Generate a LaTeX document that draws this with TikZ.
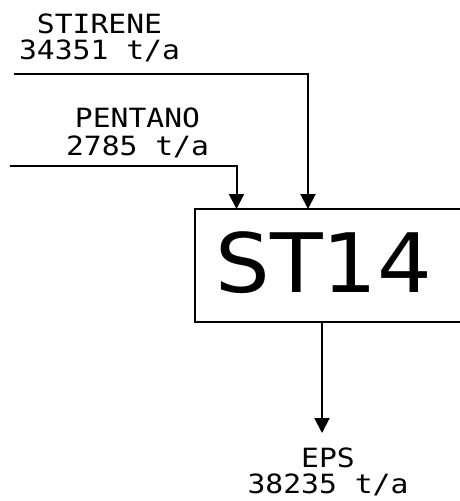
\documentclass[tikz,border=0pt]{standalone}
\usepackage{fontspec}
\usetikzlibrary{arrows.meta}
\newfontfamily\labmono[FakeStretch=1.12]{DejaVu Sans Mono}
\newfontfamily\bigsans[FakeStretch=1.05]{DejaVu Sans}
\tikzset{
  flow/.style={line width=2pt, -{Triangle[length=15pt,width=15pt]}},
  lab/.style={inner sep=0pt, anchor=base, align=center, font=\labmono\fontsize{26.5}{26}\selectfont},
  unitbox/.style={draw, line width=2pt, inner sep=0pt, outer sep=0pt, minimum width=280pt, minimum height=112.5pt},
  bigtext/.style={inner sep=0pt, anchor=base, font=\bigsans\fontsize{82}{90}\selectfont}
}
\begin{document}
\begin{tikzpicture}[x=1pt,y=-1pt]
\useasboundingbox (0,0) rectangle (460,501);
% box
\node[unitbox] (box) at (335,265.25) {};
\node[bigtext] (st) at (324,292) {ST14};
% labels
\node[lab] (stir) at (99.5,59) {STIRENE\\34351 t/a};
\node[lab, font=\labmono\fontsize{26.5}{28}\selectfont] (pent) at (137.5,155) {PENTANO\\2785 t/a};
\node[lab] (eps) at (328,493) {EPS\\38235 t/a};
% inputs
\coordinate (s0) at (14,74);
\coordinate (p0) at (10,165.5);
\draw[flow] (s0) -| ([xshift=113pt]box.north west);
\draw[flow] (p0) -| ([xshift=41.5pt]box.north west);
% output
\coordinate (eTip) at (322,433);
\draw[flow] ([xshift=127pt]box.south west) -- (eTip);
\end{tikzpicture}
\end{document}
